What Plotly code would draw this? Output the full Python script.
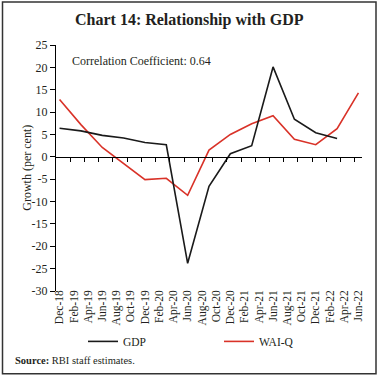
import pandas as pd
import plotly.graph_objects as go

# ---- data ----
quarters = ["Dec-18", "Mar-19", "Jun-19", "Sep-19", "Dec-19", "Mar-20", "Jun-20",
            "Sep-20", "Dec-20", "Mar-21", "Jun-21", "Sep-21", "Dec-21", "Mar-22", "Jun-22"]
gdp = [6.4, 5.8, 4.8, 4.2, 3.2, 2.7, -23.8, -6.6, 0.7, 2.5, 20.1, 8.4, 5.4, 4.1, None]
wai_q = [12.8, 7.2, 2.1, -1.6, -5.1, -4.8, -8.6, 1.5, 5.0, 7.4, 9.2, 3.9, 2.7, 6.3, 14.3]
tick_labels = ["Dec-18", "Feb-19", "Apr-19", "Jun-19", "Aug-19", "Oct-19", "Dec-19",
               "Feb-20", "Apr-20", "Jun-20", "Aug-20", "Oct-20", "Dec-20", "Feb-21",
               "Apr-21", "Jun-21", "Aug-21", "Oct-21", "Dec-21", "Feb-22", "Apr-22", "Jun-22"]
y_ticks = [25, 20, 15, 10, 5, 0, -5, -10, -15, -20, -25, -30]
y_tick_text = ["25", "20", "15", "10", "5", "0", "-5", "-10", "-15", "-20", "-25", "-30"]

months = list(pd.date_range("2018-12-01", "2022-06-01", freq="MS").strftime("%b-%y"))
n = len(months)
boundaries = [i + 0.5 for i in range(1, n - 1, 2)]

SERIF = "Liberation Serif"
TXT = "#231f20"
W, H = 379, 379
L, R, T, B = 56, 17, 45, 87.5
pw, ph = W - L - R, H - T - B

def px_x(x):
    return (x - L) / pw

def px_y(y):
    return (H - B - y) / ph

fig = go.Figure()
fig.add_trace(go.Scatter(x=quarters, y=gdp, name="GDP", mode="lines",
                         line=dict(color="#1a1a1a", width=1.6), xaxis="x2", yaxis="y",
                         legend="legend"))
fig.add_trace(go.Scatter(x=quarters, y=wai_q, name="WAI-Q", mode="lines",
                         line=dict(color="#d93228", width=1.6), xaxis="x", yaxis="y",
                         legend="legend2"))

xcommon = dict(type="category", categoryorder="array", categoryarray=months,
               range=[-0.5, n - 0.5], fixedrange=True)

legcommon = dict(orientation="h", xanchor="left", yanchor="middle", itemwidth=30,
                 font=dict(family=SERIF, size=11.5, color=TXT), bgcolor="rgba(0,0,0,0)",
                 borderwidth=0)

fig.update_layout(
    width=W, height=H,
    margin=dict(l=L, r=R, t=T, b=B),
    paper_bgcolor="white", plot_bgcolor="white",
    font=dict(family=SERIF, color=TXT, size=11),
    showlegend=True,
    xaxis=dict(**xcommon, tickmode="array", tickvals=tick_labels, ticktext=tick_labels,
               tickangle=-90, ticks="", showline=False, showgrid=False, zeroline=False,
               ticklabelstandoff=-4,
               tickfont=dict(family=SERIF, size=11.5, color=TXT)),
    xaxis2=dict(**xcommon, overlaying="x", anchor="free", position=30 / 55,
                tickmode="array", tickvals=boundaries, ticktext=[""] * len(boundaries),
                showticklabels=False, ticks="outside", ticklen=4, tickcolor="black",
                showline=True, linecolor="black", linewidth=1, showgrid=False, zeroline=False),
    yaxis=dict(range=[-30, 25], tickmode="array", tickvals=y_ticks, ticktext=y_tick_text,
               ticks="outside", ticklen=5, tickcolor="black", showline=True,
               linecolor="black", linewidth=1, showgrid=False, zeroline=False, fixedrange=True,
               tickfont=dict(family=SERIF, size=12, color=TXT)),
    legend=dict(**legcommon, x=px_x(83), y=px_y(342)),
    legend2=dict(**legcommon, x=px_x(219), y=px_y(342)),
)

fig.add_annotation(text="<b>Chart 14: Relationship with GDP</b>", xref="paper", yref="paper",
                   x=px_x(189), y=px_y(20), xanchor="center", yanchor="middle",
                   showarrow=False, font=dict(family=SERIF, size=16, color=TXT))
fig.add_annotation(text="Correlation Coefficient: 0.64", xref="paper", yref="paper",
                   x=px_x(70), y=px_y(61), xanchor="left", yanchor="middle",
                   showarrow=False, font=dict(family=SERIF, size=12, color=TXT))
fig.add_annotation(text="Growth (per cent)", xref="paper", yref="paper",
                   x=px_x(27), y=px_y(168), xanchor="center", yanchor="middle", textangle=-90,
                   showarrow=False, font=dict(family=SERIF, size=12, color=TXT))
fig.add_annotation(text="<b>Source:</b> RBI staff estimates.", xref="paper", yref="paper",
                   x=px_x(13), y=px_y(361), xanchor="left", yanchor="middle",
                   showarrow=False, font=dict(family=SERIF, size=10.5, color=TXT))
fig.add_shape(type="rect", xref="paper", yref="paper",
              x0=px_x(2.5), x1=px_x(376), y0=px_y(374.5), y1=px_y(2),
              line=dict(color="#333333", width=1.5))

fig.write_html("out.html", config={"displayModeBar": False},
               post_script="document.body.style.margin='0';document.body.style.padding='0';")
